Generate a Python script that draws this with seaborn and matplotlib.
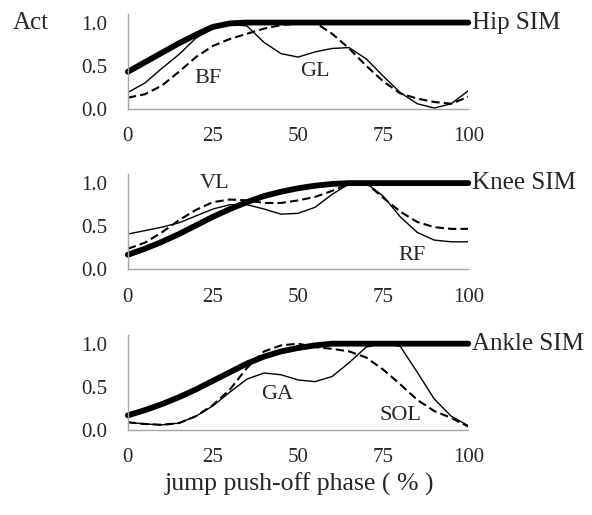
import matplotlib
matplotlib.use("Agg")
import matplotlib.pyplot as plt
import numpy as np
import pandas as pd
import seaborn as sns

phase = [0, 5, 10, 15, 20, 25, 30, 35, 40, 45, 50, 55, 60, 65, 70, 75, 80, 85, 90, 95, 100]

hip_sim = [0.43, 0.54, 0.65, 0.76, 0.86, 0.95, 0.99, 1.0, 1.0, 1.0, 1.0, 1.0, 1.0, 1.0, 1.0, 1.0, 1.0, 1.0, 1.0, 1.0, 1.0]
hip_thin = [0.19, 0.3, 0.47, 0.63, 0.82, 0.93, 0.98, 0.96, 0.77, 0.64, 0.6, 0.66, 0.7, 0.71, 0.58, 0.38, 0.19, 0.06, 0.01, 0.06, 0.21]
hip_dash = [0.13, 0.17, 0.27, 0.43, 0.6, 0.73, 0.81, 0.87, 0.93, 0.97, 0.99, 1.0, 0.87, 0.7, 0.5, 0.32, 0.18, 0.12, 0.08, 0.06, 0.14]

knee_sim = [0.17, 0.24, 0.32, 0.41, 0.51, 0.61, 0.7, 0.78, 0.85, 0.9, 0.94, 0.97, 0.99, 1.0, 1.0, 1.0, 1.0, 1.0, 1.0, 1.0, 1.0]
knee_thin = [0.41, 0.45, 0.49, 0.54, 0.62, 0.7, 0.75, 0.75, 0.7, 0.64, 0.65, 0.72, 0.87, 0.99, 1.0, 0.85, 0.61, 0.43, 0.34, 0.32, 0.32]
knee_dash = [0.24, 0.31, 0.43, 0.57, 0.69, 0.78, 0.81, 0.8, 0.77, 0.77, 0.8, 0.84, 0.91, 0.99, 1.0, 0.83, 0.67, 0.55, 0.49, 0.47, 0.47]

ankle_sim = [0.17, 0.23, 0.3, 0.38, 0.47, 0.57, 0.67, 0.77, 0.85, 0.91, 0.95, 0.98, 1.0, 1.0, 1.0, 1.0, 1.0, 1.0, 1.0, 1.0, 1.0]
ankle_thin = [0.09, 0.07, 0.06, 0.08, 0.16, 0.28, 0.44, 0.59, 0.66, 0.64, 0.58, 0.56, 0.62, 0.78, 0.96, 1.0, 0.97, 0.67, 0.36, 0.16, 0.05]
ankle_dash = [0.09, 0.07, 0.06, 0.08, 0.16, 0.29, 0.47, 0.72, 0.91, 0.98, 1.0, 0.96, 0.94, 0.91, 0.84, 0.7, 0.53, 0.35, 0.22, 0.14, 0.04]

sim_labels = ["Hip SIM", "Knee SIM", "Ankle SIM"]
muscle_labels = [[("BF", 23.5, 0.35), ("GL", 55, 0.43)],
                 [("VL", 25.5, 0.99), ("RF", 83.5, 0.16)],
                 [("GA", 44, 0.41), ("SOL", 80, 0.17)]]
xticks = [0, 25, 50, 75, 100]
yticks = [0.0, 0.5, 1.0]

sns.set_style("white")
plt.rcParams["font.family"] = ["Liberation Serif", "DejaVu Serif"]

fig, axes = plt.subplots(3, 1, figsize=(5.92, 5.15), dpi=100)
fig.subplots_adjust(left=0.216, right=0.791, top=0.973, bottom=0.165, hspace=0.69)

panels = [(hip_sim, hip_thin, hip_dash), (knee_sim, knee_thin, knee_dash),
          (ankle_sim, ankle_thin, ankle_dash)]

for i, ax in enumerate(axes):
    sim, thin, dash = panels[i]
    df = pd.DataFrame({"phase": phase, "sim": sim, "thin": thin, "dash": dash})
    sns.lineplot(data=df, x="phase", y="thin", ax=ax, color="black", lw=1.0)
    sns.lineplot(data=df, x="phase", y="dash", ax=ax, color="black", lw=1.5, linestyle=(0, (4, 2)))
    sns.lineplot(data=df, x="phase", y="sim", ax=ax, color="black", lw=4.2, clip_on=False)
    ax.set_xlim(0, 100)
    ax.set_ylim(0, 1.1)
    ax.set_xticks(xticks)
    ax.set_yticks(yticks)
    ax.set_yticklabels([f"{v:.1f}" for v in yticks])
    ax.tick_params(length=0, labelsize=15)
    ax.tick_params(axis="y", pad=15)
    ax.tick_params(axis="x", pad=13)
    ax.set_xlabel("")
    ax.set_ylabel("")
    for s in ["top", "right"]:
        ax.spines[s].set_visible(False)
    for s in ["left", "bottom"]:
        ax.spines[s].set_color("#a6a6a6")
        ax.spines[s].set_linewidth(1.0)
    ax.text(101, 1.0, sim_labels[i], fontsize=18, va="center", ha="left")
    for name, x, y in muscle_labels[i]:
        ax.text(x, y, name, fontsize=16, va="center", ha="center")

fig.text(0.022, 0.955, "Act", fontsize=18, va="center", ha="left")
fig.text(0.505, 0.06, "jump push-off phase ( % )", fontsize=18.5, va="center", ha="center")

fig.savefig("out.png", dpi=100)
